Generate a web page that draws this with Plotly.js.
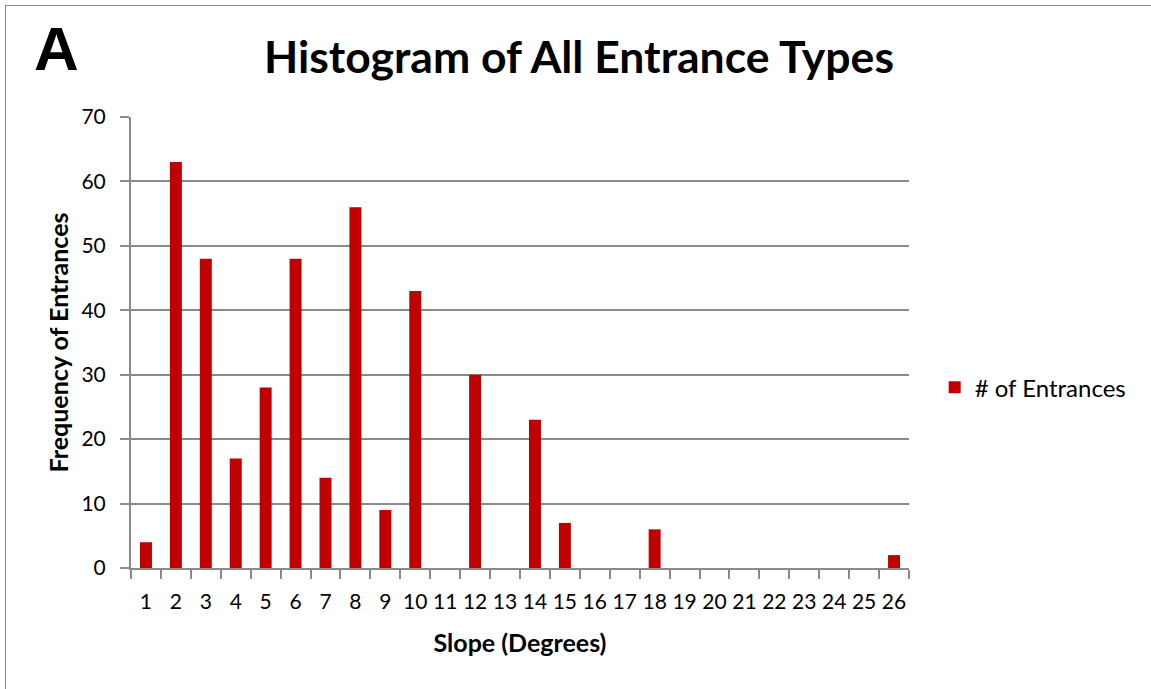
<!DOCTYPE html>
<html><head><meta charset="utf-8">
<script src="https://cdn.plot.ly/plotly-3.0.1.min.js"></script>
<style>
html,body{margin:0;padding:0;background:#fff;}
#frame{position:absolute;left:5px;top:5px;width:1146px;height:684px;border-left:1px solid #8c8c8c;border-top:1px solid #8c8c8c;}
#chart{position:absolute;left:0;top:0;width:1151px;height:689px;}
</style></head>
<body>
<div id="frame"></div>
<div id="chart"></div>
<script>
const categories = ['1','2','3','4','5','6','7','8','9','10','11','12','13','14','15','16','17','18','19','20','21','22','23','24','25','26'];
const entrances = [4,63,48,17,28,48,14,56,9,43,0,30,0,23,7,0,0,6,0,0,0,0,0,0,0,2];
const yTicks = [0,10,20,30,40,50,60,70];

const F = 'Lato, "Open Sans", sans-serif';
const data = [{
  type:'bar', x:categories, y:entrances, name:'# of Entrances',
  marker:{color:'#c00000', line:{width:0}}
}];
const layout = {
  width:1151, height:689,
  paper_bgcolor:'rgba(0,0,0,0)', plot_bgcolor:'#fff',
  margin:{l:131, r:242, t:117, b:121},
  bargap:0.6,
  showlegend:true,
  legend:{x:1.033, y:0.4, xanchor:'left', yanchor:'middle', font:{family:F, size:24, color:'#000'}, itemwidth:20},
  title:{text:'<b>Histogram of All Entrance Types</b>', x:0.503, xanchor:'center', y:0.917, yanchor:'middle', font:{family:F, size:44.5, color:'#000'}},
  xaxis:{type:'category', tickvals:categories, ticktext:categories, tickson:'boundaries', ticks:'outside', ticklen:9, tickcolor:'#8a8a8a', tickwidth:2,
    tickangle:0, ticklabelstandoff:14,
    showline:true, linecolor:'#8a8a8a', linewidth:2, showgrid:false, tickfont:{family:F, size:21, color:'#000'},
    title:{text:'<b>Slope (Degrees)</b>', font:{family:F, size:25, color:'#000'}, standoff:22}},
  yaxis:{range:[0,70], tickvals:yTicks, ticks:'outside', ticklen:9, tickcolor:'#8a8a8a', tickwidth:2, ticklabelstandoff:10,
    showline:true, linecolor:'#8a8a8a', linewidth:2, showgrid:true, gridcolor:'#8a8a8a', gridwidth:2, zeroline:false,
    tickfont:{family:F, size:21, color:'#000'},
    title:{text:'<b>Frequency of Entrances</b>', font:{family:F, size:25, color:'#000'}, standoff:6}},
  annotations:[{text:'<b>A</b>', xref:'paper', yref:'paper', x:-0.127, y:1.151, xanchor:'left', yanchor:'middle', showarrow:false,
    font:{family:'"Liberation Sans", Arial, sans-serif', size:62, color:'#000'}}]
};
Plotly.newPlot('chart', data, layout, {displayModeBar:false, staticPlot:true});
</script>
</body></html>
